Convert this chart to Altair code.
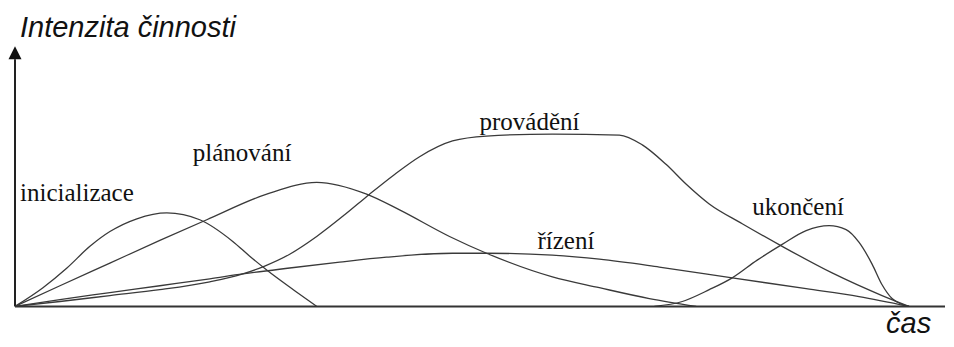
import altair as alt
import pandas as pd

# ---- curve data (time t, intensity v) ----
init_t = [0, 28, 52, 75, 95, 122, 152, 185, 218, 235, 252, 280, 302]
init_v = [0, 19, 39, 61, 76, 89, 95, 88, 66, 51, 37, 16, 0]

plan_t = [0, 45, 95, 145, 192, 252, 302, 352, 385, 435, 472, 538, 585, 635, 682]
plan_v = [0, 21, 44, 67, 88, 114, 126, 114, 98, 71, 54, 30, 19, 8, 0]

exec_t = [0, 45, 95, 145, 195, 228, 250, 275, 302, 330, 355, 380, 405, 438, 472,
          538, 605, 628, 652, 672, 695, 728, 768, 818, 868, 895]
exec_v = [0, 5, 11, 17, 25, 33, 41, 53, 71, 93, 114, 134, 152, 168, 173,
          175, 174, 164, 144, 124, 104, 84, 61, 34, 11, 0]

ctrl_t = [0, 45, 95, 145, 195, 228, 275, 325, 372, 438, 472, 538, 585, 645, 718, 792, 845, 895]
ctrl_v = [0, 7, 14, 21, 28, 33, 39, 45, 50, 54, 54, 52, 48, 40, 29, 18, 10, 0]

close_t = [640, 668, 695, 718, 743, 768, 792, 815, 832, 845, 858, 868, 878, 888, 895]
close_v = [0, 5, 17, 29, 47, 63, 77, 82, 78, 65, 43, 22, 8, 2, 0]

series_names = ["inicializace", "plánování", "provádění", "řízení", "ukončení"]
series_t = [init_t, plan_t, exec_t, ctrl_t, close_t]
series_v = [init_v, plan_v, exec_v, ctrl_v, close_v]

# curve labels
label_text = ["inicializace", "plánování", "provádění", "řízení", "ukončení"]
label_t = [5, 178, 465, 523, 738]
label_v = [107, 148, 179, 58, 93]

# axis titles
axis_title_text = ["Intenzita činnosti", "čas"]
axis_title_t = [5, 872]
axis_title_v = [274, -27]

# axis extents
y_axis_top = 251
arrow_v = 257.5
x_axis_end = 931

rows = []
for name, ts, vs in zip(series_names, series_t, series_v):
    for t, v in zip(ts, vs):
        rows.append({"series": name, "t": t, "v": v})
df = pd.DataFrame(rows)

labels_df = pd.DataFrame({"label": label_text, "t": label_t, "v": label_v})
titles_df = pd.DataFrame({"label": axis_title_text, "t": axis_title_t, "v": axis_title_v})

xs = alt.Scale(domain=[-7, 931], nice=False, zero=False)
ys = alt.Scale(domain=[-28, 303], nice=False, zero=False)

lines = alt.Chart(df).mark_line(
    color="#3a3a3a", strokeWidth=1.3, interpolate="monotone", clip=False
).encode(
    x=alt.X("t:Q", scale=xs, axis=None),
    y=alt.Y("v:Q", scale=ys, axis=None),
    detail="series:N",
)

yaxis = alt.Chart(pd.DataFrame({"t": [0], "v": [0], "v2": [y_axis_top]})).mark_rule(
    color="#222222", strokeWidth=2
).encode(
    x=alt.X("t:Q", scale=xs, axis=None),
    y=alt.Y("v:Q", scale=ys, axis=None),
    y2="v2:Q",
)

xaxis = alt.Chart(pd.DataFrame({"t": [0], "t2": [x_axis_end], "v": [0]})).mark_rule(
    color="#333333", strokeWidth=2
).encode(
    x=alt.X("t:Q", scale=xs, axis=None),
    x2="t2:Q",
    y=alt.Y("v:Q", scale=ys, axis=None),
)

arrow = alt.Chart(pd.DataFrame({"t": [0], "v": [arrow_v]})).mark_point(
    shape="M0,-1L1,1L-1,1Z", filled=True, size=169, color="#111111", opacity=1
).encode(
    x=alt.X("t:Q", scale=xs, axis=None),
    y=alt.Y("v:Q", scale=ys, axis=None),
)

labels = alt.Chart(labels_df).mark_text(
    font="Liberation Serif", fontSize=25, align="left", baseline="alphabetic", color="#111111"
).encode(
    x=alt.X("t:Q", scale=xs, axis=None),
    y=alt.Y("v:Q", scale=ys, axis=None),
    text="label:N",
)

titles = alt.Chart(titles_df).mark_text(
    font="Liberation Sans", fontStyle="italic", fontSize=29, align="left",
    baseline="alphabetic", color="#111111"
).encode(
    x=alt.X("t:Q", scale=xs, axis=None),
    y=alt.Y("v:Q", scale=ys, axis=None),
    text="label:N",
)

chart = alt.layer(lines, yaxis, xaxis, arrow, labels, titles).properties(
    width=938, height=331,
    autosize=alt.AutoSizeParams(type="fit", contains="padding"),
    padding=0,
    background="white",
).configure_view(stroke=None)

chart.save("out.html", embed_options={"renderer": "svg", "actions": False})
